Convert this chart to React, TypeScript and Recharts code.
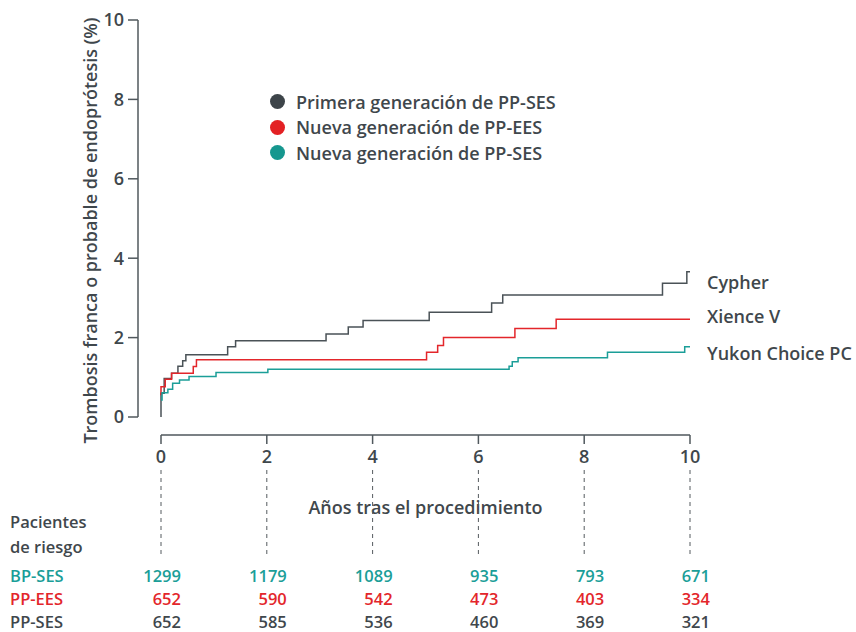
import React from 'react';
import { LineChart, Line, XAxis, YAxis, Legend, LabelList } from 'recharts';

// ---- data ----
const yearTicks = [0, 2, 4, 6, 8, 10];
const rateTicks = [0, 2, 4, 6, 8, 10];

const cypherYears = [0, 0, 0.06, 0.2, 0.32, 0.41, 0.47, 1.26, 1.41, 3.12, 3.54, 3.82, 5.07, 6.25, 6.46, 9.48, 9.94, 10];
const cypherRate = [0, 0.6, 0.97, 1.1, 1.28, 1.42, 1.57, 1.77, 1.92, 2.09, 2.27, 2.43, 2.64, 2.87, 3.07, 3.37, 3.66, 3.66];

const xienceYears = [0, 0, 0.08, 0.2, 0.61, 0.67, 5.02, 5.23, 5.34, 6.69, 7.47, 10];
const xienceRate = [0.55, 0.76, 0.95, 1.1, 1.27, 1.44, 1.63, 1.8, 2.0, 2.23, 2.46, 2.46];

const yukonYears = [0, 0.02, 0.13, 0.22, 0.35, 0.53, 1.04, 2.02, 6.58, 6.64, 6.75, 8.44, 9.9, 10];
const yukonRate = [0.43, 0.61, 0.7, 0.85, 0.93, 1.02, 1.12, 1.2, 1.28, 1.39, 1.49, 1.63, 1.77, 1.77];

const riskBpSes = [1299, 1179, 1089, 935, 793, 671];
const riskPpEes = [652, 590, 542, 473, 403, 334];
const riskPpSes = [652, 585, 536, 460, 369, 321];

const seriesNames = ['Primera generación de PP-SES', 'Nueva generación de PP-EES', 'Nueva generación de PP-SES'];
const endLabels = ['Cypher', 'Xience V', 'Yukon Choice PC'];
const rowLabels = ['BP-SES', 'PP-EES', 'PP-SES'];

// ---- styles ----
const FONT = '"Open Sans", "DejaVu Sans", sans-serif';
const FS = 18;
const TFS = 16.5;
const FW = 600;
const TEXT = '#3f474c';
const AXIS = '#50585d';
const GRAY = '#4a5257';
const RED = '#e3262b';
const TEAL = '#1b9e98';
const seriesColors = [GRAY, RED, TEAL];
const legendColors = ['#3d4449', '#e32124', '#16978f'];

const toRows = (xs: number[], ys: number[]) => xs.map((t, i) => ({ t, v: ys[i] }));
const cypherData = toRows(cypherYears, cypherRate);
const xienceData = toRows(xienceYears, xienceRate);
const yukonData = toRows(yukonYears, yukonRate);

const makeEndLabel = (text: string, last: number, dy: number) => (props: any) => {
  if (props.index !== last) return null;
  const vb = props.viewBox || {};
  const x = props.x ?? vb.x;
  const y = props.y ?? vb.y;
  return (
    <text x={x + 17} y={y + dy} fill={TEXT} fontFamily={FONT} fontSize={FS} fontWeight={FW} dominantBaseline="central">
      {text}
    </text>
  );
};

const YLabel = (props: any) => {
  const vb = props.viewBox || { x: 0, y: 20, width: 138, height: 415 };
  const cx = vb.x + 90;
  const cy = vb.y + vb.height / 2 + 3;
  return (
    <text x={cx} y={cy} transform={`rotate(-90, ${cx}, ${cy})`} textAnchor="middle" dominantBaseline="central"
      fill={TEXT} fontFamily={FONT} fontSize={FS} fontWeight={FW}>
      Trombosis franca o probable de endoprótesis (%)
    </text>
  );
};

// tick of the x axis: year label, dashed guide and the patients-at-risk numbers
const YearTick = (props: any) => {
  const { x, y, payload } = props;
  const i = yearTicks.indexOf(payload.value);
  const common = { textAnchor: 'end' as const, fontFamily: FONT, fontSize: TFS, fontWeight: FW, dominantBaseline: 'central' as const };
  return (
    <g>
      <text x={x} y={y + 19} textAnchor="middle" fill={TEXT} fontFamily={FONT} fontSize={FS} fontWeight={FW}>{payload.value}</text>
      <line x1={x} x2={x} y1={y + 26} y2={y + 111} stroke="#555b5f" strokeWidth={1} strokeDasharray="4 4" />
      <text x={x + 20} y={y + 131} fill={TEAL} {...common}>{riskBpSes[i]}</text>
      <text x={x + 20} y={y + 154} fill={RED} {...common}>{riskPpEes[i]}</text>
      <text x={x + 20} y={y + 177} fill={TEXT} {...common}>{riskPpSes[i]}</text>
    </g>
  );
};

const XLabel = (props: any) => {
  const vb = props.viewBox || { x: 138, y: 435, width: 552, height: 197 };
  const cx = vb.x + 23 + (vb.width - 23) / 2;
  const cy = vb.y + 72;
  const lx = 10;
  const base = { fontFamily: FONT, fontSize: FS, fontWeight: FW, dominantBaseline: 'central' as const };
  const tbase = { ...base, fontSize: TFS };
  return (
    <g>
      <rect x={cx - 128} y={cy - 14} width={256} height={28} fill="#fff" />
      <text x={cx} y={cy} textAnchor="middle" fill={TEXT} {...base}>Años tras el procedimiento</text>
      <text x={lx} y={vb.y + 86} fill={TEXT} {...tbase}>Pacientes</text>
      <text x={lx} y={vb.y + 111} fill={TEXT} {...tbase}>de riesgo</text>
      <text x={lx} y={vb.y + 140} fill={TEAL} {...tbase}>{rowLabels[0]}</text>
      <text x={lx} y={vb.y + 163} fill={RED} {...tbase}>{rowLabels[1]}</text>
      <text x={lx} y={vb.y + 186} fill={TEXT} {...tbase}>{rowLabels[2]}</text>
    </g>
  );
};

const LegendContent = () => (
  <div style={{ fontFamily: FONT }}>
    {seriesNames.map((name, i) => (
      <div key={i} style={{ display: 'flex', alignItems: 'center', height: 25.5 }}>
        <span style={{ width: 15, height: 15, borderRadius: '50%', background: legendColors[i], display: 'inline-block', marginRight: 11 }} />
        <span style={{ fontSize: FS, fontWeight: FW, color: TEXT, whiteSpace: 'nowrap' }}>{name}</span>
      </div>
    ))}
  </div>
);

export default function App() {
  return (
    <div style={{ position: 'absolute', left: 0, top: 0, width: 856, height: 632, background: '#fff' }}>
      <LineChart width={856} height={632} margin={{ top: 20, right: 166, bottom: 0, left: 0 }}>
        <XAxis
          dataKey="t"
          type="number"
          domain={[0, 10]}
          ticks={yearTicks}
          interval={0}
          padding={{ left: 23, right: 0 }}
          height={197}
          axisLine={{ stroke: AXIS, strokeWidth: 1.5, strokeDasharray: '0 23 600' }}
          tickLine={{ stroke: AXIS, strokeWidth: 1.5 }}
          tickSize={9}
          tickMargin={0}
          tick={<YearTick />}
          label={<XLabel />}
          allowDuplicatedCategory
        />
        <YAxis
          type="number"
          domain={[0, 10]}
          ticks={rateTicks}
          interval={0}
          width={138}
          padding={{ top: 0, bottom: 18 }}
          axisLine={{ stroke: AXIS, strokeWidth: 1.5, strokeDasharray: '397 100' }}
          tickLine={{ stroke: AXIS, strokeWidth: 1.5 }}
          tickSize={10}
          tickMargin={4}
          tick={{ fill: TEXT, fontSize: FS, fontFamily: FONT, fontWeight: FW }}
          label={<YLabel />}
        />
        <Legend
          layout="vertical"
          align="center"
          verticalAlign="middle"
          content={<LegendContent />}
          wrapperStyle={{ left: 270, top: 89, width: 330 }}
        />
        <Line data={cypherData} dataKey="v" name={seriesNames[0]} type="stepAfter" stroke={seriesColors[0]} strokeWidth={1.5} dot={false} isAnimationActive={false}>
          <LabelList dataKey="v" content={makeEndLabel(endLabels[0], cypherData.length - 1, 10)} />
        </Line>
        <Line data={xienceData} dataKey="v" name={seriesNames[1]} type="stepAfter" stroke={seriesColors[1]} strokeWidth={1.5} dot={false} isAnimationActive={false}>
          <LabelList dataKey="v" content={makeEndLabel(endLabels[1], xienceData.length - 1, -3)} />
        </Line>
        <Line data={yukonData} dataKey="v" name={seriesNames[2]} type="stepAfter" stroke={seriesColors[2]} strokeWidth={1.5} dot={false} isAnimationActive={false}>
          <LabelList dataKey="v" content={makeEndLabel(endLabels[2], yukonData.length - 1, 6)} />
        </Line>
      </LineChart>
    </div>
  );
}
